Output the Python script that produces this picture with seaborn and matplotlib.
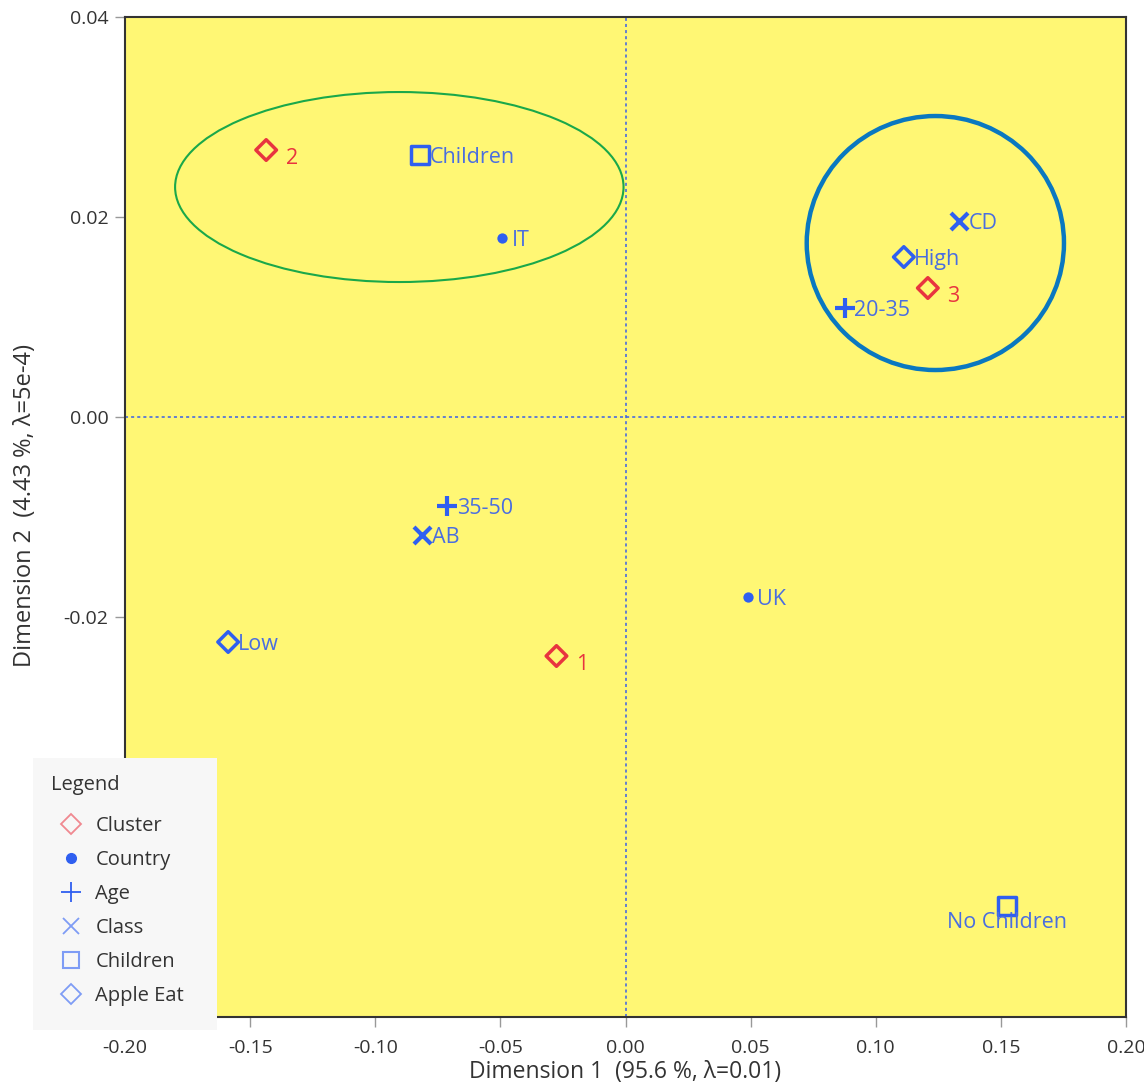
import pandas as pd
import matplotlib.pyplot as plt
import seaborn as sns
from matplotlib.patches import Ellipse, Rectangle
from matplotlib.lines import Line2D

# Correspondence analysis coordinates
labels = ["1", "2", "3", "IT", "UK", "20-35", "35-50", "AB", "CD",
          "Children", "No Children", "High", "Low"]
groups = ["Cluster", "Cluster", "Cluster", "Country", "Country", "Age", "Age",
          "Class", "Class", "Children", "Children", "Apple Eat", "Apple Eat"]
dim1 = [-0.0276, -0.1436, 0.1208, -0.0492, 0.0488, 0.0876, -0.0712,
        -0.0812, 0.1332, -0.0820, 0.1524, 0.1112, -0.1588]
dim2 = [-0.0239, 0.0267, 0.0129, 0.0179, -0.0180, 0.0109, -0.0089,
        -0.0118, 0.0196, 0.0262, -0.0489, 0.0160, -0.0225]

df = pd.DataFrame({"label": labels, "group": groups, "x": dim1, "y": dim2})

red = "#e8343f"
blue = "#2f5ff0"
label_blue = "#4a6ee0"

styles = {
    "Cluster":   dict(marker="D", s=110, facecolor="none", edgecolor=red, linewidth=2.5),
    "Country":   dict(marker="o", s=55, color=blue, edgecolor=blue, linewidth=0),
    "Age":       dict(marker="+", s=200, color=blue, linewidth=3),
    "Class":     dict(marker="x", s=150, color=blue, linewidth=3),
    "Children":  dict(marker="s", s=170, facecolor="none", edgecolor=blue, linewidth=2.5),
    "Apple Eat": dict(marker="D", s=110, facecolor="none", edgecolor=blue, linewidth=2.5),
}

sns.set_style("white")
plt.rcParams["font.family"] = ["Open Sans", "DejaVu Sans"]

fig = plt.figure(figsize=(11.44, 10.92), dpi=100)
ax = fig.add_axes([0.1093, 0.0687, 0.8750, 0.9157])
ax.set_facecolor("#fff774")

for g, st in styles.items():
    sub = df[df["group"] == g]
    sns.scatterplot(data=sub, x="x", y="y", ax=ax, zorder=3, legend=False, **st)

for _, r in df.iterrows():
    if r["label"] == "No Children":
        ax.annotate(r["label"], (r["x"], r["y"]), xytext=(0, -12), textcoords="offset points",
                    ha="center", va="center", color=label_blue, fontsize=15.5, zorder=4)
    elif r["group"] == "Cluster":
        ax.annotate(r["label"], (r["x"], r["y"]), xytext=(14, -6), textcoords="offset points",
                    ha="left", va="center", color=red, fontsize=15.5, zorder=4)
    else:
        ax.annotate(r["label"], (r["x"], r["y"]), xytext=(7, -2), textcoords="offset points",
                    ha="left", va="center", color=label_blue, fontsize=15.5, zorder=4)

ax.axvline(0, color="#3a5fe8", lw=1.1, ls=(0, (2, 2)), zorder=1)
ax.axhline(0, color="#3a5fe8", lw=1.1, ls=(0, (2, 2)), zorder=1)

ax.add_patch(Ellipse((-0.0904, 0.0230), 0.1792, 0.0190, fill=False,
                     edgecolor="#1aa84a", lw=1.5, zorder=2))
ax.add_patch(Ellipse((0.1238, 0.0174), 0.1028, 0.0254, fill=False,
                     edgecolor="#0a78c0", lw=3.2, zorder=2))

ax.set_xlim(-0.20, 0.20)
ax.set_ylim(-0.06, 0.04)
ax.set_xticks([-0.20, -0.15, -0.10, -0.05, 0.00, 0.05, 0.10, 0.15, 0.20])
ax.set_xticklabels(["%.2f" % v for v in ax.get_xticks()])
ax.set_yticks([-0.06, -0.04, -0.02, 0.00, 0.02, 0.04])
# the two lowest labels sit under the legend panel
ax.set_yticklabels(["", "", "-0.02", "0.00", "0.02", "0.04"])
ax.tick_params(direction="out", length=7, width=1, color="#999999",
               labelsize=14, labelcolor="#333333", bottom=True, left=True)
ax.tick_params(axis="x", pad=9)
ax.tick_params(axis="y", pad=5)
for sp in ax.spines.values():
    sp.set_color("#333333")
    sp.set_linewidth(1.5)

ax.set_xlabel("Dimension 1  (95.6 %, \u03bb=0.01)", fontsize=16.5, color="#333333")
ax.set_ylabel("Dimension 2  (4.43 %, \u03bb=5e-4)", fontsize=17, color="#333333")
ax.xaxis.set_label_coords(0.5, -0.043)
ax.yaxis.set_label_coords(-0.088, 0.512)

# legend panel on top of the axes
fig.patches.append(Rectangle((0.0288, 0.0568), 0.161, 0.249, transform=fig.transFigure,
                             facecolor="#f7f7f7", edgecolor="none", zorder=5))
fig.text(51 / 1144, 1 - 785 / 1092, "Legend", fontsize=14.5, color="#333333",
         ha="left", va="center", zorder=6)
lred = "#f08890"
lblue = "#7e9cf5"
handles = [
    Line2D([], [], ls="none", marker="D", ms=10, mfc="none", mec=lred, mew=1.3),
    Line2D([], [], ls="none", marker="o", ms=7, mfc=blue, mec=blue),
    Line2D([], [], ls="none", marker="+", ms=15, mec=blue, mew=1.3),
    Line2D([], [], ls="none", marker="x", ms=12, mec=lblue, mew=1.3),
    Line2D([], [], ls="none", marker="s", ms=11, mfc="none", mec=lblue, mew=1.5),
    Line2D([], [], ls="none", marker="D", ms=10, mfc="none", mec=lblue, mew=1.3),
]
leg = fig.legend(handles, list(styles.keys()), loc="upper left",
                 bbox_to_anchor=(49 / 1144, 1 - 816 / 1092), frameon=False, fontsize=14.5,
                 labelspacing=0.7, handletextpad=0.1, handlelength=2.2,
                 borderpad=0, borderaxespad=0)
leg.set_zorder(6)
for t in leg.get_texts():
    t.set_color("#333333")

fig.savefig("out.png", dpi=100)
